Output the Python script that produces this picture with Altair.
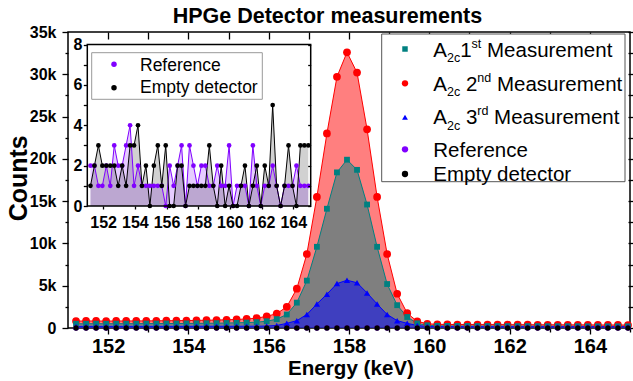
import altair as alt
import pandas as pd

FONT = "Liberation Sans"

# ---------------- data ----------------
energy_kev = [151.2, 151.45, 151.7, 151.95, 152.2, 152.45, 152.7, 152.95, 153.2, 153.45,
              153.7, 153.95, 154.2, 154.45, 154.7, 154.95, 155.2, 155.45, 155.7, 155.95,
              156.2, 156.45, 156.7, 156.95, 157.2, 157.45, 157.7, 157.95, 158.2, 158.45,
              158.7, 158.95, 159.2, 159.45, 159.7, 159.95, 160.2, 160.45, 160.7, 160.95,
              161.2, 161.45, 161.7, 161.95, 162.2, 162.45, 162.7, 162.95, 163.2, 163.45,
              163.7, 163.95, 164.2, 164.45, 164.7, 164.95]

a2c_1st = [500, 500, 510, 500, 510, 510, 510, 520, 520, 530,
           530, 540, 550, 560, 570, 590, 610, 640, 690, 800,
           1050, 1600, 3000, 5600, 9600, 14100, 18400, 19900, 18700, 14600,
           9600, 5200, 2700, 1300, 550, 320, 260, 250, 240, 240,
           230, 230, 230, 220, 220, 220, 220, 210, 210, 210,
           210, 200, 200, 200, 200, 200]

a2c_2nd = [820, 830, 830, 820, 830, 830, 840, 840, 850, 860,
           870, 880, 900, 920, 940, 970, 1010, 1070, 1160, 1380,
           1700, 2500, 4650, 8750, 15500, 23000, 29700, 32600, 30200, 23500,
           15500, 8750, 4050, 1750, 780, 500, 430, 420, 410, 410,
           400, 400, 400, 390, 390, 390, 380, 380, 380, 370,
           370, 370, 360, 360, 360, 350]

a2c_3rd = [190, 190, 190, 190, 190, 190, 190, 190, 190, 190,
           190, 190, 200, 200, 200, 200, 200, 210, 210, 230,
           300, 550, 870, 1600, 2840, 4000, 5250, 5650, 5350, 4150,
           2840, 1600, 870, 550, 300, 170, 160, 160, 160, 150,
           150, 150, 150, 150, 150, 150, 150, 150, 150, 150,
           150, 150, 150, 150, 150, 150]

reference_counts = [2, 2, 1, 1, 2, 1, 3, 2, 2, 3,
                    4, 1, 2, 1, 1, 1, 1, 1, 1, 0,
                    2, 1, 2, 3, 0, 3, 2, 1, 2, 2,
                    1, 1, 2, 1, 1, 3, 0, 1, 1, 1,
                    0, 3, 1, 0, 1, 1, 2, 1, 0, 1,
                    1, 1, 2, 1, 1, 1]

empty_counts = [1, 2, 3, 2, 2, 2, 2, 1, 2, 1,
                3, 3, 4, 1, 2, 0, 2, 3, 1, 3,
                0, 0, 2, 2, 0, 1, 1, 1, 1, 1,
                3, 1, 0, 2, 0, 1, 0, 0, 1, 2,
                0, 1, 2, 0, 2, 1, 5, 1, 0, 1,
                3, 1, 0, 3, 3, 3]

main_x_ticks = [152, 153, 154, 155, 156, 157, 158, 159, 160, 161, 162, 163, 164, 165]
main_y_ticks = [0, 2500, 5000, 7500, 10000, 12500, 15000, 17500, 20000, 22500,
                25000, 27500, 30000, 32500, 35000]
inset_x_ticks = [152, 154, 156, 158, 160, 162, 164]
inset_y_ticks = [0, 1, 2, 3, 4, 5, 6, 7, 8]

title_text = "HPGe Detector measurements"
x_title = "Energy (keV)"
y_title = "Counts"

df = pd.DataFrame({"E": energy_kev, "m1": a2c_1st, "m2": a2c_2nd, "m3": a2c_3rd,
                   "ref": reference_counts, "emp": empty_counts})

TEAL, RED, BLUE, PURPLE, BLACK = "#008080", "#FF0000", "#0000FF", "#8000FF", "#000000"

# ---------------- scales ----------------
W, H = 562, 296
XM = alt.Scale(domain=[151, 165], range=[0, W], nice=False, zero=False)
YM = alt.Scale(domain=[0, 35000], range=[H, 0], nice=False, zero=False)
XI = alt.Scale(domain=[151, 165.1], range=[19.3, 242.7], nice=False, zero=False)
YI = alt.Scale(domain=[0, 8], range=[174, 12.5], nice=False, zero=False)

common = dict(labelFont=FONT, labelFontWeight="bold", labelColor="black",
              tickColor="black", tickWidth=1.3, domain=False, grid=False,
              labelOverlap=False, labelFlush=False)
plain = dict(labels=False, tickColor="black", tickWidth=1.3, domain=False, grid=False)

ax_bottom = alt.Axis(orient="bottom", values=main_x_ticks,
                     labelExpr="datum.value % 2 == 0 && datum.value < 165 ? datum.label : ''",
                     tickSize={"condition": {"test": "datum.value % 2 == 0", "value": 6}, "value": 4},
                     labelFontSize=20, labelPadding=2, **common)
ax_left = alt.Axis(orient="left", values=main_y_ticks,
                   labelExpr="datum.value % 5000 == 0 ? (datum.value == 0 ? '0' : format(datum.value / 1000, 'd') + 'k') : ''",
                   tickSize={"condition": {"test": "datum.value % 5000 == 0", "value": 6}, "value": 3},
                   labelFontSize=16, labelPadding=6, **common)
ax_top = alt.Axis(orient="top", values=main_x_ticks[:-1], tickSize=7, offset=-7, **plain)
ax_right = alt.Axis(orient="right", values=main_y_ticks, tickSize=5, offset=-2, **plain)

ax_in_bottom = alt.Axis(orient="bottom", values=inset_x_ticks, offset=-(H - 174), tickSize=3,
                        labelFontSize=16, labelPadding=5, **common)
ax_in_left = alt.Axis(orient="left", values=inset_y_ticks, offset=-19.3, tickSize=4,
                      labelExpr="datum.value % 2 == 0 ? datum.label : ''",
                      labelFontSize=16, labelPadding=1.5, **common)
ax_in_right = alt.Axis(orient="right", values=inset_y_ticks, offset=-(W - 239.7), tickSize=3,
                       zindex=1, **plain)

base = alt.Chart(df)


def mx(axis=None):
    return alt.X("E:Q", scale=XM, axis=axis, title=None)


def ix(axis=None):
    return alt.X("E:Q", scale=XI, axis=axis, title=None)


def my(col, axis=None):
    return alt.Y(f"{col}:Q", scale=YM, axis=axis, title=None)


def iy(col, axis=None):
    return alt.Y(f"{col}:Q", scale=YI, axis=axis, title=None)


layers = []
# main areas
layers.append(base.mark_area(color=RED, opacity=0.5).encode(x=mx(ax_bottom), y=my("m2", ax_left)))
layers.append(base.mark_area(color=TEAL, opacity=0.5).encode(x=mx(ax_top), y=my("m1", ax_right)))
layers.append(base.mark_area(color=BLUE, opacity=0.5).encode(x=mx(), y=my("m3")))
# main lines
for col, c in [("m2", RED), ("m1", TEAL), ("m3", BLUE)]:
    layers.append(base.mark_line(color=c, strokeWidth=1).encode(x=mx(), y=my(col)))
# main points
layers.append(base.mark_point(filled=True, shape="circle", size=60, color=RED, opacity=1)
              .encode(x=mx(), y=my("m2")))
layers.append(base.mark_point(filled=True, shape="square", size=34, color=TEAL, opacity=1)
              .encode(x=mx(), y=my("m1")))
layers.append(base.mark_point(filled=True, shape="triangle-up", size=40, color=BLUE, opacity=1)
              .encode(x=mx(), y=my("m3")))
layers.append(base.mark_point(filled=True, shape="circle", size=28, color=PURPLE, opacity=1)
              .encode(x=mx(), y=my("ref")))
layers.append(base.mark_point(filled=True, shape="circle", size=30, color=BLACK, opacity=1)
              .encode(x=mx(), y=my("emp")))

# inset
frame_df = pd.DataFrame({"x0": [151], "x1": [165.1], "y0": [0], "y1": [8]})
layers.append(alt.Chart(frame_df).mark_rect(fill="white", stroke=None)
              .encode(x=alt.X("x0:Q", scale=XI, axis=ax_in_bottom, title=None), x2="x1",
                      y=alt.Y("y0:Q", scale=YI, axis=ax_in_left, title=None), y2="y1"))
layers.append(base.mark_area(color=PURPLE, opacity=0.2).encode(x=ix(), y=iy("ref")))
layers.append(base.mark_area(color=BLACK, opacity=0.18).encode(x=ix(), y=iy("emp", ax_in_right)))
layers.append(base.mark_line(color=PURPLE, strokeWidth=1).encode(x=ix(), y=iy("ref")))
layers.append(base.mark_line(color=BLACK, strokeWidth=1).encode(x=ix(), y=iy("emp")))
layers.append(base.mark_point(filled=True, shape="circle", size=22, color=PURPLE, opacity=1)
              .encode(x=ix(), y=iy("ref")))
layers.append(base.mark_point(filled=True, shape="circle", size=22, color=BLACK, opacity=1)
              .encode(x=ix(), y=iy("emp")))
layers.append(alt.Chart(frame_df).mark_rect(fillOpacity=0, stroke="black", strokeWidth=1.5)
              .encode(x=alt.X("x0:Q", scale=XI, axis=None), x2="x1",
                      y=alt.Y("y0:Q", scale=YI, axis=None), y2="y1"))

one = pd.DataFrame({"a": [0]})


def box(x0, x1, y0, y1, stroke):
    return alt.Chart(one).mark_rect(fill="white", stroke=stroke, strokeWidth=1).encode(
        x=alt.value(x0), x2=alt.value(x1), y=alt.value(y0), y2=alt.value(y1))


def sym(shape, color, size, x, y):
    return alt.Chart(one).mark_point(shape=shape, filled=True, color=color, size=size, opacity=1).encode(
        x=alt.value(x), y=alt.value(y))


def txt(s, x, y, size, bold=False, align="left", angle=None, baseline="alphabetic"):
    kw = dict(font=FONT, fontSize=size, align=align, baseline=baseline, color="black")
    if bold:
        kw["fontWeight"] = "bold"
    if angle is not None:
        kw["angle"] = angle
    return alt.Chart(pd.DataFrame({"t": [s]})).mark_text(**kw).encode(
        text="t:N", x=alt.value(x), y=alt.value(y))


# inset legend
layers.append(box(23.7, 194.3, 20.7, 67.3, "#999999"))
layers.append(sym("circle", PURPLE, 30, 46, 32.3))
layers.append(sym("circle", BLACK, 30, 46, 55.7))
layers.append(txt("Reference", 72, 38.7, 17.5))
layers.append(txt("Empty detector", 72, 61.3, 17.5))

# main legend
layers.append(box(313.7, 557, 2, 149.7, "#555555"))
layers.append(sym("square", TEAL, 30, 337, 17))
layers.append(sym("circle", RED, 40, 337, 51.3))
layers.append(sym("triangle-up", BLUE, 34, 337, 85.3))
layers.append(sym("circle", PURPLE, 40, 337, 117.3))
layers.append(sym("circle", BLACK, 40, 337, 142))

FS, SS = 20.5, 12.5
rows = [(24.7, "1", "st", 419.0), (58.7, "2", "nd", 428.9), (92.3, "3", "rd", 426.1)]
for i, (yb, num, sup, mx_) in enumerate(rows):
    layers.append(txt("A", 365.3, yb, FS))
    layers.append(txt("2c", 379.0, yb + 5.5, SS))
    numx = 392.2 if i == 0 else 397.9
    layers.append(txt(num, numx, yb, FS))
    layers.append(txt(sup, numx + 11.4, yb - 9, SS))
    layers.append(txt("Measurement", mx_, yb, FS))
layers.append(txt("Reference", 365.3, 124.7, FS))
layers.append(txt("Empty detector", 365.3, 149, FS))

# titles
layers.append(txt(title_text, 259.4, -9.3, 21.5, bold=True, align="center"))
layers.append(txt(x_title, 283, 342.5, 20.6, bold=True, align="center"))
layers.append(txt(y_title, -41.3, 146.3, 25, bold=True, align="center", angle=270))

chart = alt.layer(*layers).resolve_scale(x="independent", y="independent").properties(
    width=W, height=H,
    autosize=alt.AutoSizeParams(type="none"),
    padding={"left": 68, "top": 32, "right": 3, "bottom": 53},
).configure_view(stroke="black", strokeWidth=1.5)

chart.save("out.html", embed_options={"renderer": "svg", "actions": False})
